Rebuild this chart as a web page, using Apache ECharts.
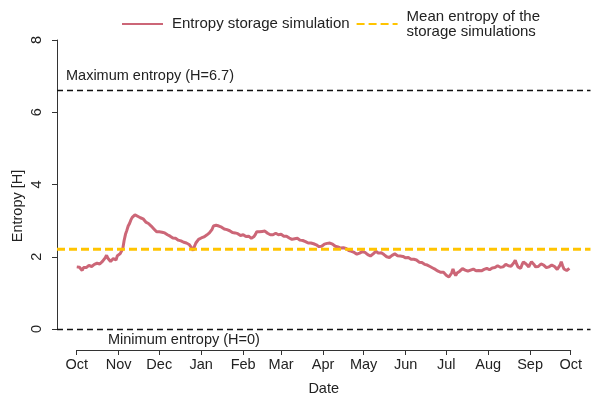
<!DOCTYPE html>
<html><head><meta charset="utf-8">
<script src="https://cdn.jsdelivr.net/npm/echarts@6/dist/echarts.min.js"></script>
<style>html,body{margin:0;padding:0;background:#fff}#c{width:602px;height:401px}</style>
</head><body><div id="c"></div>
<script>
// Month tick positions (days since 1 Oct) and labels
const monthTicks = [0, 31, 61, 92, 123, 151, 182, 212, 243, 273, 304, 335, 365];
const monthLabels = ['Oct','Nov','Dec','Jan','Feb','Mar','Apr','May','Jun','Jul','Aug','Sep','Oct'];
const yTicks = [0, 2, 4, 6, 8];
// Entropy storage simulation, one value per day starting 1 Oct
const entropy = [
1.72,1.68,1.71,1.67,1.62,1.70,1.74,1.70,1.73,1.76,1.77,1.73,1.75,1.79,1.78,1.82,1.84,1.80,1.83,1.87,
1.92,1.97,2.04,1.96,1.93,1.87,1.90,1.95,1.97,1.91,2.03,1.98,2.08,2.04,2.22,2.45,2.62,2.73,2.85,2.92,
3.02,3.09,3.12,3.16,3.15,3.12,3.13,3.08,3.07,3.05,3.02,2.96,2.93,2.92,2.88,2.85,2.80,2.77,2.72,2.69,
2.65,2.69,2.70,2.68,2.67,2.66,2.62,2.61,2.57,2.57,2.55,2.52,2.51,2.51,2.49,2.46,2.45,2.44,2.41,2.40,
2.37,2.38,2.35,2.34,2.30,2.24,2.17,2.29,2.38,2.43,2.48,2.51,2.52,2.55,2.55,2.59,2.60,2.63,2.66,2.69,
2.76,2.85,2.90,2.87,2.86,2.85,2.82,2.82,2.80,2.77,2.76,2.75,2.72,2.72,2.70,2.67,2.67,2.66,2.64,2.64,
2.62,2.59,2.59,2.61,2.58,2.56,2.57,2.57,2.55,2.51,2.48,2.56,2.62,2.69,2.71,2.69,2.70,2.70,2.68,2.71,
2.69,2.65,2.63,2.61,2.57,2.61,2.62,2.65,2.65,2.61,2.60,2.62,2.59,2.57,2.57,2.57,2.55,2.52,2.51,2.48,
2.47,2.50,2.50,2.51,2.49,2.46,2.45,2.45,2.42,2.42,2.40,2.38,2.38,2.38,2.36,2.36,2.33,2.33,2.31,2.28,
2.27,2.29,2.30,2.35,2.37,2.37,2.38,2.38,2.36,2.35,2.33,2.29,2.27,2.27,2.25,2.24,2.26,2.25,2.22,2.23,
2.21,2.17,2.16,2.15,2.12,2.12,2.10,2.07,2.07,2.10,2.11,2.14,2.14,2.12,2.12,2.06,2.03,2.02,2.00,2.08,
2.12,2.15,2.14,2.10,2.09,2.11,2.10,2.06,2.04,2.00,1.97,1.98,2.00,2.04,2.06,2.08,2.07,2.03,2.02,2.02,
2.00,2.01,1.99,1.97,1.97,1.98,1.96,1.93,1.93,1.93,1.91,1.91,1.88,1.85,1.84,1.84,1.82,1.79,1.78,1.77,
1.74,1.73,1.70,1.69,1.66,1.65,1.62,1.60,1.58,1.57,1.54,1.57,1.58,1.49,1.45,1.44,1.42,1.55,1.66,1.55,
1.48,1.55,1.60,1.60,1.62,1.67,1.70,1.63,1.58,1.60,1.60,1.63,1.64,1.66,1.66,1.61,1.58,1.62,1.63,1.61,
1.61,1.65,1.66,1.68,1.68,1.64,1.63,1.69,1.73,1.70,1.70,1.75,1.77,1.71,1.68,1.72,1.74,1.79,1.82,1.75,
1.70,1.74,1.76,1.84,1.90,1.80,1.72,1.71,1.68,1.78,1.86,1.82,1.80,1.75,1.72,1.80,1.86,1.81,1.78,1.72,
1.68,1.73,1.76,1.80,1.82,1.77,1.74,1.70,1.68,1.72,1.74,1.77,1.77,1.73,1.70,1.65,1.63,1.76,1.86,1.75,
1.66,1.65,1.62,1.66,1.68
];
const sampleStepDays = 1;
const meanH = 2.21;
const maxH = 6.6;
const minH = 0;
const seriesName = 'Entropy storage simulation';
const meanName = 'Mean entropy of the\nstorage simulations';

const FONT = "'Liberation Sans', Arial, sans-serif";
const TXT = '#222';
const span = monthTicks[monthTicks.length - 1];
const pad = span * 0.04;
const lineData = entropy.map((v, i) => [i * sampleStepDays, v]);

const chart = echarts.init(document.getElementById('c'), null, {renderer: 'canvas'});
chart.setOption({
  animation: false,
  backgroundColor: '#fff',
  textStyle: {fontFamily: FONT},
  legend: {
    left: 116, top: 4,
    itemWidth: 41, itemHeight: 14, itemGap: 6,
    itemStyle: {opacity: 0},
    textStyle: {fontFamily: FONT, fontSize: 15, color: TXT, lineHeight: 15, padding: [0, 0, 0, 4]},
    data: [seriesName, meanName]
  },
  grid: [
    {left: 57, right: 11.5, top: 40, bottom: 72},
    {left: 76.7, right: 31.3, top: 40, bottom: 72}
  ],
  xAxis: [
    {type: 'value', gridIndex: 0, min: -pad, max: span + pad, show: false},
    {type: 'value', gridIndex: 1, min: 0, max: span, offset: 27,
     axisLine: {show: true, onZero: false, lineStyle: {color: '#333', width: 1}},
     axisTick: {show: true, customValues: monthTicks, length: 5, lineStyle: {color: '#333'}},
     axisLabel: {customValues: monthTicks, margin: 7, fontSize: 14.5, color: TXT, fontFamily: FONT,
       formatter: v => monthLabels[monthTicks.indexOf(v)]},
     splitLine: {show: false},
     name: 'Date', nameLocation: 'middle', nameGap: 31,
     nameTextStyle: {fontSize: 14.5, color: TXT, fontFamily: FONT}}
  ],
  yAxis: [
    {type: 'value', gridIndex: 0, min: yTicks[0], max: yTicks[yTicks.length-1], interval: 2,
     axisLine: {show: true, onZero: false, lineStyle: {color: '#333', width: 1}},
     axisTick: {show: true, length: 5, lineStyle: {color: '#333'}},
     axisLabel: {rotate: 90, margin: 13, fontSize: 14.5, color: TXT, fontFamily: FONT},
     splitLine: {show: false}},
    {type: 'value', gridIndex: 1, min: yTicks[0], max: yTicks[yTicks.length-1], show: false}
  ],
  graphic: [
    {type: 'text', left: 66, top: 68, style: {text: 'Maximum entropy (H=6.7)', font: '14.5px ' + FONT, fill: TXT}},
    {type: 'text', left: 108, top: 332, style: {text: 'Minimum entropy (H=0)', font: '14.5px ' + FONT, fill: TXT}},
    {type: 'text', x: 18, y: 206, rotation: Math.PI / 2,
     style: {text: 'Entropy [H]', font: '14.5px ' + FONT, fill: TXT, align: 'center', verticalAlign: 'middle'}}
  ],
  series: [
    {
      name: meanName, type: 'line', xAxisIndex: 0, yAxisIndex: 0,
      data: [[-pad, meanH], [span + pad, meanH]],
      symbol: 'none', silent: true, z: 3,
      lineStyle: {color: '#FFC400', width: 3, type: [8, 4]},
      itemStyle: {color: '#FFC400'},
      markLine: {
        silent: true, symbol: 'none', label: {show: false},
        lineStyle: {color: '#111', width: 1.3, type: [6, 4]},
        data: [{yAxis: maxH}, {yAxis: minH}]
      }
    },
    {
      name: seriesName, type: 'line', xAxisIndex: 0, yAxisIndex: 0,
      data: lineData, symbol: 'none', z: 2,
      lineStyle: {color: '#CC6677', width: 3},
      itemStyle: {color: '#CC6677'}
    }
  ]
});
</script></body></html>
